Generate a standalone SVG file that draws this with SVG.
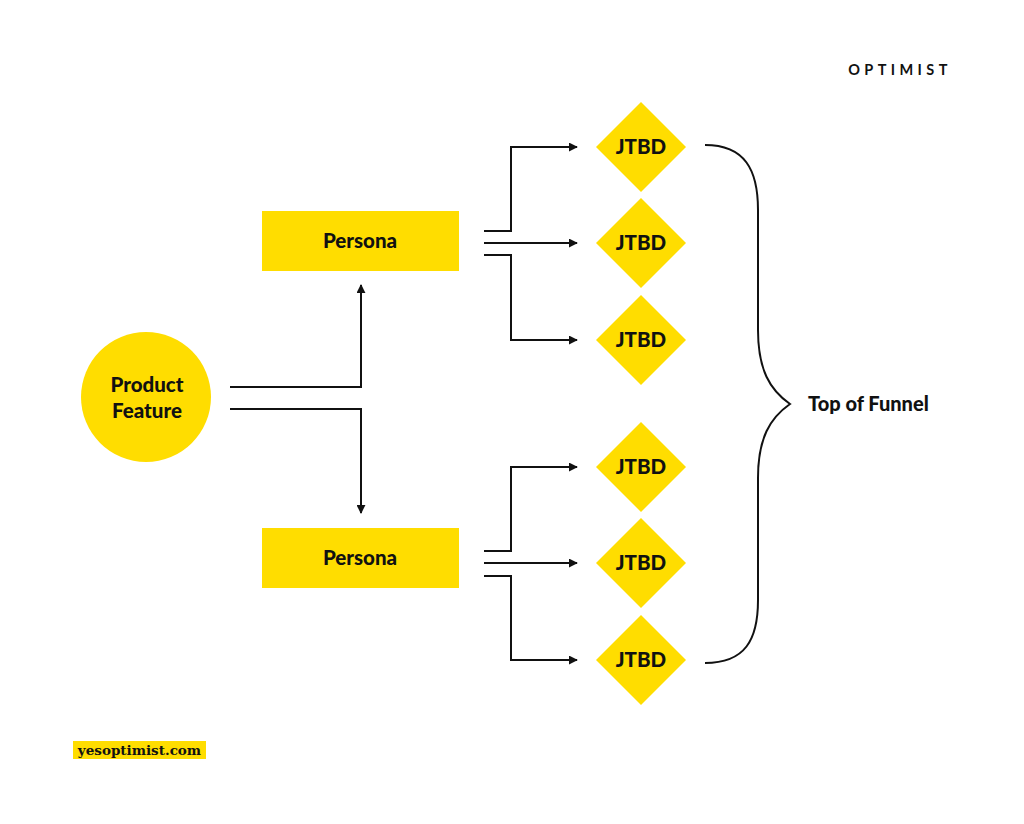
<svg xmlns="http://www.w3.org/2000/svg" width="1024" height="824" viewBox="0 0 1024 824">
<style>
.y{fill:#FFDD00}
.t{font-family:Lato,"Liberation Sans",sans-serif;font-weight:900;font-size:20.5px;fill:#111;text-anchor:middle}
.c{fill:none;stroke:#111;stroke-width:2}
</style>
<defs>
<marker id="a" viewBox="0 0 10 10" refX="9" refY="5" markerWidth="4.5" markerHeight="4.5" orient="auto" markerUnits="strokeWidth">
<path d="M0,0 L10,5 L0,10 Z" fill="#111"/>
</marker>
</defs>
<rect width="1024" height="824" fill="#fff"/>
<text x="900" y="75" font-family="Lato,'Liberation Sans',sans-serif" font-weight="700" font-size="14.5" letter-spacing="4.4" text-anchor="middle" fill="#111">OPTIMIST</text>
<g id="connectors" class="c">
<path d="M230,387 H361 V285" marker-end="url(#a)"/>
<path d="M230,409 H361 V513" marker-end="url(#a)"/>
<path d="M484,231 H511 V147 H577" marker-end="url(#a)"/>
<path d="M484,243 H577" marker-end="url(#a)"/>
<path d="M484,255 H511 V340 H577" marker-end="url(#a)"/>
<path d="M484,551 H511 V467 H577" marker-end="url(#a)"/>
<path d="M484,563 H577" marker-end="url(#a)"/>
<path d="M484,576 H511 V660 H577" marker-end="url(#a)"/>
</g>
<g id="brace">
<path class="c" d="M705,145 C745,145 758,170 758,210 V330 C758,370 770,390 790,404 C770,418 758,438 758,478 V600 C758,640 745,663 705,663"/>
<text x="808" y="411" font-family="Lato,'Liberation Sans',sans-serif" font-weight="900" font-size="20" fill="#111">Top of Funnel</text>
</g>
<g id="product-feature">
<circle class="y" cx="146" cy="397" r="65"/>
<text class="t" x="147" y="392">Product</text>
<text class="t" x="147" y="418">Feature</text>
</g>
<g id="persona-1">
<rect class="y" x="262" y="211" width="197" height="60"/>
<text class="t" x="360" y="248">Persona</text>
</g>
<g id="persona-2">
<rect class="y" x="262" y="528" width="197" height="60"/>
<text class="t" x="360" y="565">Persona</text>
</g>
<g id="jtbd-1"><path class="y" d="M641,102 L686,147 L641,192 L596,147 Z"/><text class="t" x="641" y="154">JTBD</text></g>
<g id="jtbd-2"><path class="y" d="M641,198 L686,243 L641,288 L596,243 Z"/><text class="t" x="641" y="250">JTBD</text></g>
<g id="jtbd-3"><path class="y" d="M641,295 L686,340 L641,385 L596,340 Z"/><text class="t" x="641" y="347">JTBD</text></g>
<g id="jtbd-4"><path class="y" d="M641,422 L686,467 L641,512 L596,467 Z"/><text class="t" x="641" y="474">JTBD</text></g>
<g id="jtbd-5"><path class="y" d="M641,518 L686,563 L641,608 L596,563 Z"/><text class="t" x="641" y="570">JTBD</text></g>
<g id="jtbd-6"><path class="y" d="M641,615 L686,660 L641,705 L596,660 Z"/><text class="t" x="641" y="667">JTBD</text></g>
<g id="footer">
<rect class="y" x="73" y="741" width="133" height="18"/>
<text x="139.5" y="755" font-family="'DejaVu Serif','Liberation Serif',serif" font-weight="700" font-size="13.5" text-anchor="middle" fill="#111">yesoptimist.com</text>
</g>
</svg>
